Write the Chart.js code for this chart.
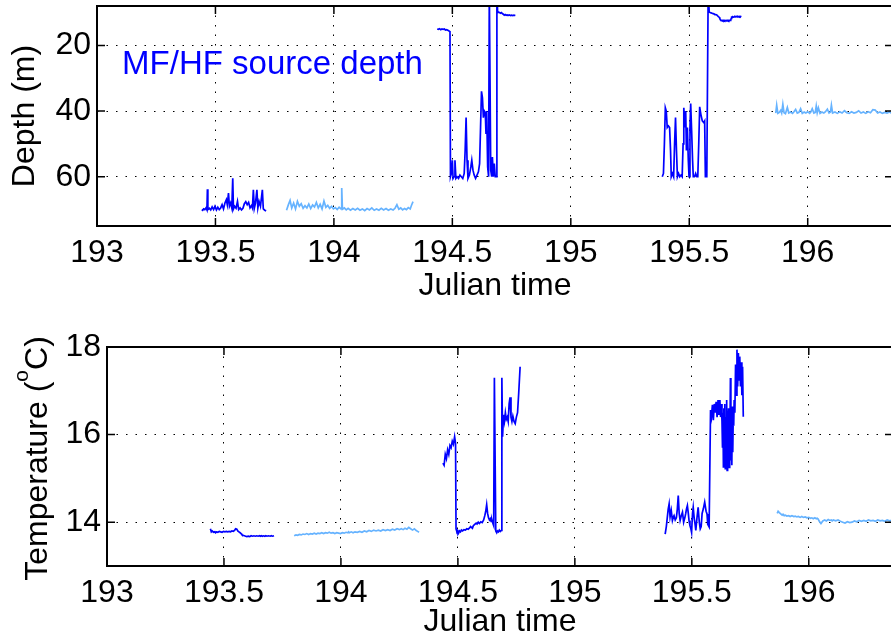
<!DOCTYPE html>
<html>
<head>
<meta charset="utf-8">
<script src="https://cdn.jsdelivr.net/npm/chart.js@4.4.1/dist/chart.umd.min.js"></script>
<style>
    html, body { margin: 0; padding: 0; background: #ffffff; overflow: hidden; }
    #depthChart { position: absolute; left: 0; top: 0; }
    #tempChart { position: absolute; left: 0; top: 310px; }
</style>
</head>
<body>
<canvas id="depthChart" width="900" height="310"></canvas>
<canvas id="tempChart" width="900" height="333"></canvas>
<script>
const FONT = "'Liberation Sans', Arial, Helvetica, sans-serif";
const darkBlue = '#0000ff';
const lightBlue = '#66b3ff';

const timeTicks = [193, 193.5, 194, 194.5, 195, 195.5, 196];
const depthTicks = [20, 40, 60];
const tempTicks = [14, 16, 18];

// segment 1 (dark)
const seg1Time = [193.442, 193.446, 193.450, 193.455, 193.460, 193.464, 193.466, 193.468, 193.474, 193.480,
    193.486, 193.492, 193.498, 193.504, 193.510, 193.516, 193.522, 193.528, 193.534, 193.540,
    193.546, 193.550, 193.555, 193.559, 193.564, 193.569, 193.573, 193.576, 193.581, 193.587,
    193.593, 193.598, 193.604, 193.610, 193.616, 193.622, 193.628, 193.634, 193.640, 193.646,
    193.652, 193.656, 193.660, 193.664, 193.669, 193.675, 193.679, 193.684, 193.690, 193.698,
    193.702, 193.708, 193.714];
const seg1Depth = [70.0, 70.2, 69.8, 70.0, 69.5, 70.1, 63.8, 70.0, 69.6, 70.1,
    69.2, 70.0, 69.0, 70.1, 69.3, 70.0, 69.5, 68.5, 69.8, 68.0,
    67.0, 68.5, 65.0, 69.0, 68.0, 69.5, 60.5, 69.8, 69.0, 69.6,
    67.5, 70.0, 69.5, 70.1, 69.6, 68.2, 67.6, 68.5, 67.8, 69.5,
    68.8, 69.5, 64.0, 69.6, 68.0, 64.0, 69.5, 67.5, 69.0, 64.0,
    69.8, 70.2, 70.4];
const seg1Temp = [13.85, 13.78, 13.80, 13.77, 13.78, 13.76, 13.77, 13.78, 13.77, 13.79,
    13.78, 13.77, 13.79, 13.78, 13.79, 13.78, 13.79, 13.78, 13.80, 13.79,
    13.82, 13.85, 13.84, 13.80, 13.78, 13.76, 13.74, 13.72, 13.70, 13.69,
    13.68, 13.67, 13.68, 13.67, 13.69, 13.68, 13.69, 13.68, 13.69, 13.68,
    13.69, 13.68, 13.69, 13.68, 13.69, 13.68, 13.69, 13.68, 13.69, 13.68,
    13.69, 13.68, 13.69];

// segment 2 (light)
const seg2Time = [193.800, 193.808, 193.815, 193.822, 193.830, 193.838, 193.846, 193.854, 193.862, 193.870,
    193.878, 193.886, 193.894, 193.902, 193.910, 193.918, 193.926, 193.934, 193.942, 193.950,
    193.958, 193.966, 193.974, 193.982, 193.990, 193.998, 194.006, 194.014, 194.022, 194.030,
    194.033, 194.036, 194.044, 194.052, 194.060, 194.070, 194.080, 194.090, 194.100, 194.110,
    194.120, 194.130, 194.140, 194.150, 194.160, 194.170, 194.180, 194.190, 194.200, 194.210,
    194.220, 194.230, 194.240, 194.250, 194.258, 194.266, 194.274, 194.282, 194.290, 194.298,
    194.306, 194.314, 194.322, 194.328, 194.334];
const seg2Depth = [70.2, 68.5, 67.2, 69.5, 68.0, 69.8, 67.5, 69.0, 68.2, 69.6,
    68.8, 69.5, 68.3, 69.7, 68.6, 69.2, 67.8, 69.5, 68.4, 69.8,
    67.4, 69.3, 68.7, 69.6, 69.0, 69.8, 69.4, 70.0, 69.3, 69.8,
    63.4, 69.9, 69.5, 70.1, 69.6, 70.2, 69.7, 70.1, 69.6, 70.2,
    69.8, 70.3, 69.7, 70.1, 69.5, 70.2, 69.8, 70.2, 69.6, 70.1,
    69.7, 70.2, 69.8, 70.1, 69.6, 68.5, 69.9, 69.5, 70.1, 69.7,
    70.0, 69.4, 69.8, 68.6, 67.6];
const seg2Temp = [13.69, 13.71, 13.70, 13.72, 13.71, 13.73, 13.72, 13.74, 13.72, 13.74,
    13.73, 13.75, 13.73, 13.75, 13.74, 13.76, 13.74, 13.76, 13.75, 13.77,
    13.75, 13.76, 13.74, 13.76, 13.75, 13.74, 13.76, 13.75, 13.77, 13.76,
    13.78, 13.76, 13.78, 13.76, 13.78, 13.77, 13.79, 13.77, 13.80, 13.78,
    13.81, 13.79, 13.82, 13.80, 13.82, 13.80, 13.83, 13.81, 13.83, 13.81,
    13.84, 13.82, 13.85, 13.83, 13.85, 13.83, 13.86, 13.84, 13.88, 13.85,
    13.82, 13.85, 13.81, 13.79, 13.77];

// segment 3 (dark)
const seg3Time = [194.436, 194.441, 194.446, 194.451, 194.456, 194.461, 194.466, 194.471, 194.476, 194.481,
    194.486, 194.490, 194.492, 194.496, 194.500, 194.503, 194.507, 194.511, 194.515, 194.520,
    194.526, 194.532, 194.538, 194.544, 194.550, 194.554, 194.558, 194.562, 194.566, 194.572,
    194.578, 194.582, 194.587, 194.592, 194.598, 194.604, 194.610, 194.615, 194.619, 194.623,
    194.627, 194.631, 194.635, 194.639, 194.642, 194.645, 194.649, 194.653, 194.656, 194.662,
    194.666, 194.669, 194.673, 194.677, 194.681, 194.685, 194.688, 194.691, 194.695, 194.699,
    194.703, 194.707, 194.711, 194.715, 194.719, 194.723, 194.727, 194.731, 194.735, 194.740,
    194.745, 194.750, 194.755, 194.760, 194.766];
const seg3Depth = [15.0, 15.1, 14.9, 15.2, 15.0, 15.1, 15.0, 15.3, 15.2, 15.4,
    15.6, 15.8, 60.0, 59.0, 55.0, 60.5, 60.0, 55.0, 60.5, 60.0,
    60.5, 59.5, 60.0, 60.5, 59.0, 52.0, 42.0, 55.0, 60.5, 59.5,
    57.0, 55.0, 58.0, 59.5, 60.5, 59.5, 58.5, 56.0, 45.0, 34.0,
    36.0, 42.0, 40.0, 40.5, 47.0, 40.0, 57.0, 60.0, 3.0, 58.0,
    60.0, 54.0, 60.0, 56.0, 60.0, 60.0, 3.0, 10.0, 9.9, 10.0,
    10.2, 10.0, 10.3, 10.5, 10.8, 10.6, 10.8, 10.7, 10.9, 10.7,
    10.9, 10.8, 10.9, 10.8, 10.9];
const seg3Temp = [15.35, 15.30, 15.55, 15.45, 15.65, 15.55, 15.75, 15.70, 15.85, 15.78,
    15.95, 15.80, 13.85, 13.78, 13.80, 13.75, 13.80, 13.78, 13.82, 13.80,
    13.83, 13.82, 13.85, 13.84, 13.87, 13.90, 13.88, 13.86, 13.92, 13.95,
    13.98, 13.96, 14.00, 13.97, 14.01, 13.99, 14.05, 14.15, 14.25, 14.40,
    14.20, 14.10, 14.05, 14.08, 14.02, 14.06, 13.98, 13.92, 17.30, 13.80,
    13.76, 13.80, 13.78, 13.82, 13.79, 13.81, 17.30, 15.95, 16.45, 16.30,
    16.50, 16.35, 16.40, 16.30, 16.70, 16.85, 16.40, 16.30, 16.42, 16.30,
    16.25, 16.40, 16.50, 16.95, 17.55];

// segment 4 (dark)
const seg4Time = [195.386, 195.391, 195.395, 195.399, 195.403, 195.407, 195.412, 195.417, 195.421, 195.424,
    195.429, 195.434, 195.438, 195.442, 195.446, 195.450, 195.455, 195.460, 195.465, 195.470,
    195.474, 195.477, 195.481, 195.485, 195.488, 195.492, 195.496, 195.499, 195.503, 195.506,
    195.510, 195.514, 195.517, 195.522, 195.527, 195.532, 195.536, 195.540, 195.544, 195.549,
    195.555, 195.561, 195.565, 195.568, 195.574, 195.580, 195.584, 195.588, 195.592, 195.596,
    195.600, 195.604, 195.608, 195.612, 195.616, 195.620, 195.623, 195.626, 195.629, 195.631,
    195.633, 195.635, 195.637, 195.639, 195.641, 195.643, 195.645, 195.647, 195.649, 195.651,
    195.653, 195.655, 195.657, 195.659, 195.661, 195.663, 195.665, 195.667, 195.669, 195.671,
    195.673, 195.675, 195.677, 195.679, 195.681, 195.684, 195.687, 195.690, 195.693, 195.696,
    195.699, 195.702, 195.705, 195.708, 195.711, 195.714, 195.717, 195.720];
const seg4Depth = [60.0, 59.0, 50.0, 39.0, 40.0, 45.0, 44.5, 45.0, 52.0, 60.0,
    59.0, 60.0, 50.0, 42.0, 52.0, 60.0, 59.0, 60.0, 59.5, 60.0,
    50.0, 39.0, 45.0, 40.0, 52.0, 45.0, 55.0, 60.0, 45.0, 37.7,
    46.0, 55.0, 60.0, 60.0, 59.0, 60.0, 60.0, 50.0, 38.7, 41.0,
    43.0, 43.5, 43.0, 60.0, 60.0, 2.0, 9.9, 10.0, 10.1, 10.2,
    10.3, 10.4, 10.6, 10.6, 10.7, 11.0, 11.2, 11.4, 11.8, 12.2,
    12.3, 12.4, 12.4, 12.4, 12.5, 12.5, 12.4, 12.4, 12.5, 12.4,
    12.4, 12.5, 12.4, 12.4, 12.5, 12.4, 12.4, 12.5, 12.4, 12.4,
    12.4, 12.3, 11.8, 11.4, 11.4, 11.3, 11.4, 11.3, 11.2, 11.3,
    11.2, 11.3, 11.2, 11.3, 11.2, 11.3, 11.2, 11.3];
const seg4Temp = [13.73, 13.90, 14.10, 14.30, 14.42, 14.12, 14.27, 14.04, 14.12, 14.15,
    14.05, 14.10, 14.30, 14.61, 14.20, 14.04, 14.15, 14.23, 14.00, 14.10,
    14.20, 14.30, 14.38, 14.20, 14.04, 13.92, 13.85, 13.77, 14.20, 14.34,
    14.10, 13.95, 13.81, 14.10, 14.34, 14.00, 13.85, 13.90, 14.20, 14.30,
    14.46, 14.25, 14.19, 13.95, 13.89, 16.56, 16.41, 16.68, 16.33, 16.70,
    16.50, 16.75, 16.40, 16.79, 16.45, 16.79, 16.40, 16.70, 16.30, 15.72,
    16.50, 15.26, 16.60, 15.40, 16.70, 15.22, 16.40, 15.35, 16.79, 15.18,
    16.55, 15.30, 16.60, 15.25, 16.30, 15.40, 17.29, 15.41, 16.50, 15.30,
    16.64, 15.60, 16.41, 16.20, 16.79, 16.50, 17.60, 16.90, 17.94, 17.10,
    17.86, 17.25, 17.78, 17.10, 17.65, 16.90, 17.55, 16.41];

// segment 5 (light)
const seg5Time = [195.865, 195.869, 195.874, 195.880, 195.886, 195.890, 195.895, 195.900, 195.906, 195.914,
    195.920, 195.928, 195.936, 195.942, 195.949, 195.956, 195.963, 195.970, 195.977, 195.985,
    195.992, 196.000, 196.008, 196.013, 196.019, 196.026, 196.032, 196.036, 196.040, 196.045,
    196.052, 196.060, 196.068, 196.075, 196.083, 196.090, 196.096, 196.100, 196.105, 196.115,
    196.125, 196.135, 196.145, 196.155, 196.165, 196.175, 196.185, 196.195, 196.205, 196.215,
    196.225, 196.235, 196.245, 196.255, 196.265, 196.275, 196.285, 196.295, 196.305, 196.315,
    196.325, 196.335, 196.345, 196.355, 196.365];
const seg5Depth = [40.6, 38.2, 40.7, 40.4, 39.8, 40.6, 37.9, 40.5, 40.8, 38.9,
    40.6, 40.3, 40.7, 40.2, 39.5, 40.6, 40.4, 39.3, 40.7, 40.3,
    40.6, 40.2, 40.7, 40.3, 39.3, 40.6, 40.4, 38.5, 40.5, 39.0,
    40.7, 40.3, 40.6, 40.2, 39.4, 40.6, 40.3, 38.2, 40.6, 40.3,
    40.7, 40.2, 40.6, 39.9, 40.5, 40.7, 40.2, 40.6, 40.4, 39.9,
    40.6, 40.3, 40.7, 40.2, 40.5, 39.6, 39.7, 40.6, 40.3, 40.7,
    40.4, 40.6, 40.3, 40.7, 40.4];
const seg5Temp = [14.20, 14.25, 14.22, 14.19, 14.16, 14.18, 14.15, 14.16, 14.14, 14.15,
    14.13, 14.15, 14.13, 14.14, 14.12, 14.13, 14.11, 14.13, 14.11, 14.12,
    14.10, 14.11, 14.09, 14.10, 14.08, 14.10, 14.08, 14.09, 14.07, 14.02,
    13.97, 14.03, 14.05, 14.03, 14.06, 14.04, 14.05, 14.03, 14.05, 14.03,
    14.05, 14.02, 14.00, 13.98, 14.01, 13.99, 14.00, 14.03, 14.01, 14.04,
    14.02, 14.04, 14.02, 14.05, 14.03, 14.04, 14.02, 14.05, 14.03, 14.04,
    14.02, 14.05, 14.03, 14.04, 14.03];

const sourceLabel = 'MF/HF source depth';
const sourceLabelAt = { x: 193.106, y: 28.8 };
const tempTitleParts = ['Temperature (', 'o', 'C)'];

Chart.defaults.font.family = FONT;
Chart.defaults.font.size = 32;
Chart.defaults.color = '#000000';

function points(time, values) {
    return time.map((t, i) => ({ x: t, y: values[i] }));
}

function series(time, values, color) {
    return {
        data: points(time, values),
        borderColor: color,
        borderWidth: 1.7,
        pointRadius: 0,
        tension: 0,
        fill: false
    };
}

// matlab-like box with inward ticks
const boxPlugin = {
    id: 'matlabBox',
    afterDraw(chart) {
        const { ctx, chartArea: a, scales } = chart;
        ctx.save();
        ctx.strokeStyle = '#000000';
        ctx.lineWidth = 1.5;
        ctx.beginPath();
        scales.x.ticks.forEach(t => {
            const px = scales.x.getPixelForValue(t.value);
            ctx.moveTo(px, a.bottom);
            ctx.lineTo(px, a.bottom - 8);
            ctx.moveTo(px, a.top);
            ctx.lineTo(px, a.top + 8);
        });
        scales.y.ticks.forEach(t => {
            const py = scales.y.getPixelForValue(t.value);
            ctx.moveTo(a.left, py);
            ctx.lineTo(a.left + 8, py);
            ctx.moveTo(a.right, py);
            ctx.lineTo(a.right - 8, py);
        });
        ctx.stroke();
        ctx.lineWidth = 2;
        ctx.strokeRect(a.left, a.top, a.right - a.left, a.bottom - a.top);
        ctx.restore();
    }
};

const sourceLabelPlugin = {
    id: 'sourceLabel',
    afterDatasetsDraw(chart) {
        const { ctx, scales } = chart;
        ctx.save();
        ctx.font = '33px ' + FONT;
        ctx.fillStyle = darkBlue;
        ctx.textAlign = 'left';
        ctx.textBaseline = 'alphabetic';
        ctx.fillText(sourceLabel, scales.x.getPixelForValue(sourceLabelAt.x), scales.y.getPixelForValue(sourceLabelAt.y));
        ctx.restore();
    }
};

const tempTitlePlugin = {
    id: 'tempTitle',
    afterDraw(chart) {
        const { ctx, chartArea: a } = chart;
        const mainFont = '32px ' + FONT;
        const supFont = '21px ' + FONT;
        ctx.save();
        ctx.font = mainFont;
        const w1 = ctx.measureText(tempTitleParts[0]).width;
        const w3 = ctx.measureText(tempTitleParts[2]).width;
        ctx.font = supFont;
        const w2 = ctx.measureText(tempTitleParts[1]).width;
        const total = w1 + w2 + w3;
        ctx.translate(47, (a.top + a.bottom) / 2 + 2);
        ctx.rotate(-Math.PI / 2);
        ctx.fillStyle = '#000000';
        ctx.textAlign = 'left';
        ctx.textBaseline = 'alphabetic';
        const x0 = -total / 2;
        ctx.font = mainFont;
        ctx.fillText(tempTitleParts[0], x0, 0);
        ctx.font = supFont;
        ctx.fillText(tempTitleParts[1], x0 + w1, -19);
        ctx.font = mainFont;
        ctx.fillText(tempTitleParts[2], x0 + w1 + w2, 0);
        ctx.restore();
    }
};

function timeAxis(height, titlePad) {
    return {
        type: 'linear',
        min: 193,
        max: 196.36,
        afterBuildTicks: s => { s.ticks = timeTicks.map(v => ({ value: v })); },
        afterFit: s => {
            s.height = height;
            s.paddingLeft = 0;
            s.paddingRight = 0;
        },
        grid: { color: '#000000', lineWidth: 1, drawTicks: false },
        border: { display: false, dash: [1.5, 8] },
        ticks: { padding: 8, autoSkip: false, maxRotation: 0, callback: v => String(v) },
        title: { display: true, text: 'Julian time', padding: { top: 0, bottom: titlePad } }
    };
}

function valueAxisFit(width) {
    return s => {
        s.width = width;
        s.paddingTop = 0;
        s.paddingBottom = 0;
    };
}

new Chart(document.getElementById('depthChart'), {
    type: 'line',
    data: {
        datasets: [
            series(seg1Time, seg1Depth, darkBlue),
            series(seg2Time, seg2Depth, lightBlue),
            series(seg3Time, seg3Depth, darkBlue),
            series(seg4Time, seg4Depth, darkBlue),
            series(seg5Time, seg5Depth, lightBlue)
        ]
    },
    options: {
        responsive: false,
        animation: false,
        events: [],
        layout: { padding: { top: 6, right: 7, left: 0, bottom: 0 } },
        plugins: { legend: { display: false }, tooltip: { enabled: false } },
        scales: {
            x: timeAxis(84, 5),
            y: {
                type: 'linear',
                reverse: true,
                min: 8,
                max: 75,
                afterBuildTicks: s => { s.ticks = depthTicks.map(v => ({ value: v })); },
                afterFit: valueAxisFit(97),
                grid: { color: '#000000', lineWidth: 1, drawTicks: false },
                border: { display: false, dash: [1.5, 8] },
                ticks: { padding: 6 },
                title: { display: true, text: 'Depth (m)', padding: { top: 6, bottom: 0 } }
            }
        }
    },
    plugins: [sourceLabelPlugin, boxPlugin]
});

new Chart(document.getElementById('tempChart'), {
    type: 'line',
    data: {
        datasets: [
            series(seg1Time, seg1Temp, darkBlue),
            series(seg2Time, seg2Temp, lightBlue),
            series(seg3Time, seg3Temp, darkBlue),
            series(seg4Time, seg4Temp, darkBlue),
            series(seg5Time, seg5Temp, lightBlue)
        ]
    },
    options: {
        responsive: false,
        animation: false,
        events: [],
        layout: { padding: { top: 37, right: 7, left: 0, bottom: 0 } },
        plugins: { legend: { display: false }, tooltip: { enabled: false } },
        scales: {
            x: timeAxis(77, 2),
            y: {
                type: 'linear',
                min: 13,
                max: 18,
                afterBuildTicks: s => { s.ticks = tempTicks.map(v => ({ value: v })); },
                afterFit: valueAxisFit(107),
                grid: { color: '#000000', lineWidth: 1, drawTicks: false },
                border: { display: false, dash: [1.5, 8] },
                ticks: { padding: 6 }
            }
        }
    },
    plugins: [boxPlugin, tempTitlePlugin]
});
</script>
</body>
</html>
